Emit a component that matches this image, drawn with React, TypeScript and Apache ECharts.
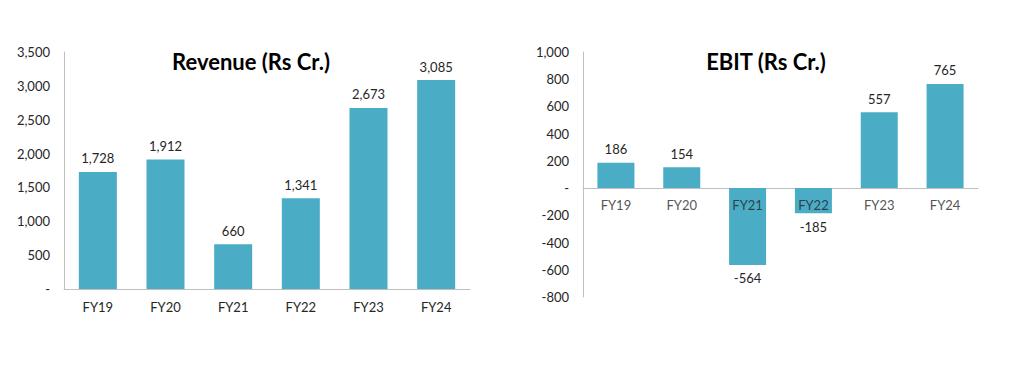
import React, { useEffect, useRef } from "react";
import * as echarts from "echarts";

const categories = ["FY19", "FY20", "FY21", "FY22", "FY23", "FY24"];
const revenue = [1728, 1912, 660, 1341, 2673, 3085];
const ebit = [186, 154, -564, -185, 557, 765];

const BAR = "#4BACC6";
const FONT = "Lato, 'Open Sans', sans-serif";
const TXT = "#262626";

const fmt = (v: number) => (v === 0 ? "-" : v.toLocaleString("en-US"));

export default function App() {
  const ref = useRef<HTMLDivElement>(null);
  useEffect(() => {
    const chart = echarts.init(ref.current!, undefined, { renderer: "svg" });
    const axisLabel = { color: TXT, fontSize: 13, fontFamily: FONT };
    chart.setOption({
      animation: false,
      backgroundColor: "#ffffff",
      title: [
        {
          text: "Revenue (Rs Cr.)",
          left: 246,
          top: 45,
          textAlign: "center",
          textStyle: { fontSize: 22, fontWeight: "bold", color: "#000", fontFamily: FONT },
        },
        {
          text: "EBIT (Rs Cr.)",
          left: 761,
          top: 45,
          textAlign: "center",
          textStyle: { fontSize: 22, fontWeight: "bold", color: "#000", fontFamily: FONT },
        },
      ],
      grid: [
        { left: 64, right: 539, top: 52, bottom: 79, containLabel: false },
        { left: 583, right: 31, top: 52, bottom: 71, containLabel: false },
      ],
      xAxis: [
        {
          type: "category",
          gridIndex: 0,
          data: categories,
          axisLine: { lineStyle: { color: "#BFBFBF", width: 1 } },
          axisTick: { show: false },
          axisLabel: { ...axisLabel, margin: 11 },
        },
        {
          type: "category",
          gridIndex: 1,
          data: categories,
          axisLine: { onZero: true, lineStyle: { color: "#BFBFBF", width: 1 } },
          axisTick: { show: false },
          axisLabel: { show: false },
        },
      ],
      yAxis: [
        {
          type: "value",
          gridIndex: 0,
          min: 0,
          max: 3500,
          interval: 500,
          splitLine: { show: false },
          axisLine: { show: true, lineStyle: { color: "#BFBFBF", width: 1 } },
          axisTick: { show: false },
          axisLabel: { ...axisLabel, margin: 14, formatter: fmt },
        },
        {
          type: "value",
          gridIndex: 1,
          min: -800,
          max: 1000,
          interval: 200,
          splitLine: { show: false },
          axisLine: { show: true, onZero: false, lineStyle: { color: "#BFBFBF", width: 1 } },
          axisTick: { show: false },
          axisLabel: { ...axisLabel, margin: 14, formatter: fmt },
        },
      ],
      series: [
        {
          type: "bar",
          xAxisIndex: 0,
          yAxisIndex: 0,
          data: revenue,
          barWidth: 38,
          itemStyle: { color: BAR },
          label: {
            show: true,
            position: "top",
            distance: 7,
            color: TXT,
            fontSize: 13,
            fontFamily: FONT,
            formatter: (p: any) => fmt(p.value),
          },
        },
        {
          type: "bar",
          xAxisIndex: 1,
          yAxisIndex: 1,
          data: ebit,
          barWidth: 37,
          itemStyle: { color: BAR },
          label: {
            show: true,
            position: "outside",
            distance: 7,
            color: TXT,
            fontSize: 13,
            fontFamily: FONT,
            formatter: (p: any) => fmt(p.value),
          },
        },
        {
          // category labels sitting on the zero line
          type: "scatter",
          xAxisIndex: 1,
          yAxisIndex: 1,
          data: categories.map((c) => [c, 0]),
          symbolSize: 0,
          silent: true,
          z: 10,
          label: {
            show: true,
            position: "bottom",
            distance: 10,
            color: TXT,
            fontSize: 13,
            fontFamily: FONT,
            formatter: (p: any) => p.value[0],
          },
        },
      ],
    });
    return () => chart.dispose();
  }, []);
  return (
    <div
      ref={ref}
      style={{ position: "fixed", left: 0, top: 0, width: 1009, height: 368, background: "#fff" }}
    />
  );
}
